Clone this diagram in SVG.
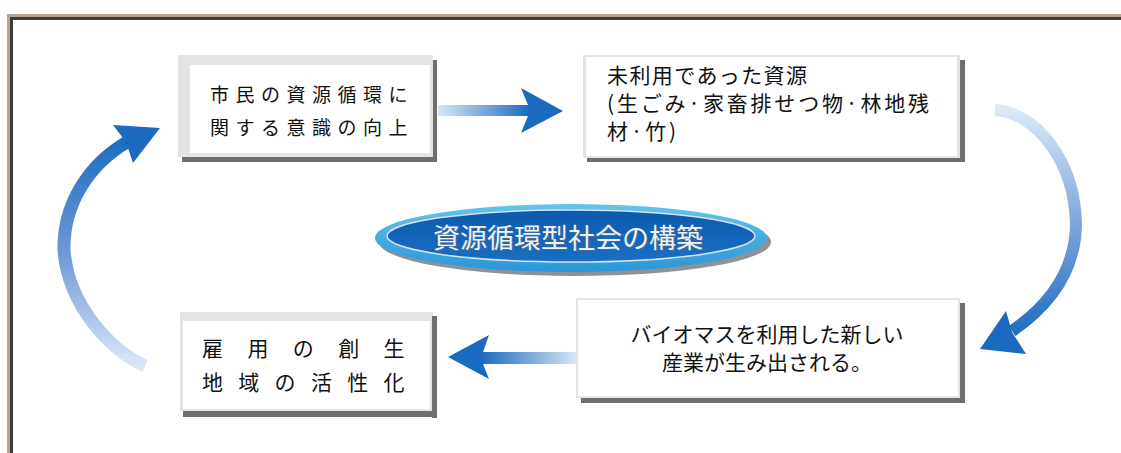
<svg xmlns="http://www.w3.org/2000/svg" width="1121" height="453" viewBox="0 0 1121 453">
<defs>
<style>
.jp{font-family:"Noto Sans CJK JP","Noto Sans CJK SC",sans-serif;fill:#111;}
.band{fill:#e4e4e4;}
.white{fill:#fff;}
.shadow{fill:#6e6e6e;}
</style>
<linearGradient id="gTop" gradientUnits="userSpaceOnUse" x1="438" y1="0" x2="528" y2="0">
<stop offset="0" stop-color="#d8e7f6"/><stop offset="1" stop-color="#1d6dc0"/>
</linearGradient>
<linearGradient id="gBot" gradientUnits="userSpaceOnUse" x1="577" y1="0" x2="483" y2="0">
<stop offset="0" stop-color="#d8e7f6"/><stop offset="1" stop-color="#1d6dc0"/>
</linearGradient>
<linearGradient id="gRight" gradientUnits="userSpaceOnUse" x1="0" y1="110" x2="0" y2="335">
<stop offset="0" stop-color="#dbe9f7"/><stop offset="0.5" stop-color="#7fa6dc"/><stop offset="1" stop-color="#1d6dc0"/>
</linearGradient>
<linearGradient id="gLeft" gradientUnits="userSpaceOnUse" x1="0" y1="367" x2="0" y2="140">
<stop offset="0" stop-color="#dbe9f7"/><stop offset="0.5" stop-color="#6f98d6"/><stop offset="1" stop-color="#1d6dc0"/>
</linearGradient>
<linearGradient id="gOuter" x1="0" y1="0" x2="0" y2="1">
<stop offset="0" stop-color="#62c4f0"/><stop offset="1" stop-color="#2b96d6"/>
</linearGradient>
<linearGradient id="gInner" x1="0" y1="0" x2="0" y2="1">
<stop offset="0" stop-color="#0c5aae"/><stop offset="1" stop-color="#1a6fc2"/>
</linearGradient>
</defs>

<g id="frame">
<path d="M8.5,453 V15.5 H1121" fill="none" stroke="#b9a48e" stroke-width="3"/>
<path d="M11.5,453 V18.5 H1121" fill="none" stroke="#3c3c3c" stroke-width="3"/>
</g>

<g id="connectors">
<rect x="438" y="105" width="91" height="11" fill="url(#gTop)"/>
<polygon points="521,88 563,111 521,133 528,116 528,105" fill="#1a6abf"/>
<rect x="482" y="352" width="95" height="12" fill="url(#gBot)"/>
<polygon points="448,357 489,335 483,352 483,364 489,379" fill="#1a6abf"/>
<path d="M995,110 C1035,112 1075,160 1076,225 C1075,270 1050,305 1012,331" fill="none" stroke="url(#gRight)" stroke-width="12"/>
<polygon points="980,349 1006,311 1012,332 1026,354" fill="#1a6abf"/>
<path d="M145,366 C110,350 68,305 64,250 C63,205 88,165 127,142" fill="none" stroke="url(#gLeft)" stroke-width="13"/>
<polygon points="160,128 113,125 126,142 133,163" fill="#1a6abf"/>
</g>

<g id="node1">
<rect class="band" x="178" y="55" width="255" height="102"/>
<rect class="white" x="190" y="65" width="240" height="88"/>
<rect class="shadow" x="433" y="60" width="4" height="102"/>
<rect class="shadow" x="182" y="157" width="255" height="5"/>
<text class="jp" x="210" y="102" font-size="19" letter-spacing="6.5">市民の資源循環に</text>
<text class="jp" x="210" y="135" font-size="19" letter-spacing="6.5">関する意識の向上</text>
</g>

<g id="node2">
<rect class="band" x="583" y="55" width="377" height="103"/>
<rect class="white" x="586" y="57" width="371" height="99"/>
<rect class="shadow" x="960" y="60" width="5" height="102"/>
<rect class="shadow" x="587" y="158" width="378" height="4"/>
<text class="jp" x="607" y="83" font-size="21" textLength="200" lengthAdjust="spacing">未利用であった資源</text>
<text class="jp" x="607" y="111" font-size="21" textLength="322" lengthAdjust="spacing">(生ごみ·家畜排せつ物·林地残</text>
<text class="jp" x="607" y="139" font-size="21" textLength="69" lengthAdjust="spacing">材·竹)</text>
</g>

<g id="center">
<ellipse cx="575" cy="242" rx="196" ry="34" fill="#8e9296"/>
<ellipse cx="571" cy="238" rx="196" ry="34" fill="url(#gOuter)"/>
<ellipse cx="571" cy="236" rx="184" ry="26" fill="url(#gInner)" stroke="#d6e2ee" stroke-width="1.5"/>
<text x="569" y="249" text-anchor="middle" font-family="Noto Sans CJK JP,Noto Sans CJK SC,sans-serif" font-size="27" fill="#4d6a88" textLength="270" lengthAdjust="spacingAndGlyphs">資源循環型社会の構築</text>
<text x="568" y="248" text-anchor="middle" font-family="Noto Sans CJK JP,Noto Sans CJK SC,sans-serif" font-size="27" fill="#eef3f8" textLength="270" lengthAdjust="spacingAndGlyphs">資源循環型社会の構築</text>
</g>

<g id="node3">
<rect class="band" x="576" y="298" width="384" height="100"/>
<rect class="white" x="578" y="300" width="380" height="96"/>
<rect class="shadow" x="960" y="303" width="5" height="100"/>
<rect class="shadow" x="581" y="398" width="384" height="5"/>
<text class="jp" x="767" y="342" font-size="21" text-anchor="middle">バイオマスを利用した新しい</text>
<text class="jp" x="767" y="370" font-size="21" text-anchor="middle">産業が生み出される。</text>
</g>

<g id="node4">
<rect class="band" x="180" y="312" width="253" height="99"/>
<rect class="white" x="183" y="321" width="247" height="88"/>
<rect class="shadow" x="432" y="316" width="5" height="102"/>
<rect class="shadow" x="183" y="411" width="254" height="6"/>
<text class="jp" x="202 247.4 292.8 338.2 383.6" y="356" font-size="21">雇用の創生</text>
<text class="jp" x="202 238.3 274.6 310.9 347.2 383.5" y="390" font-size="21">地域の活性化</text>
</g>
</svg>
